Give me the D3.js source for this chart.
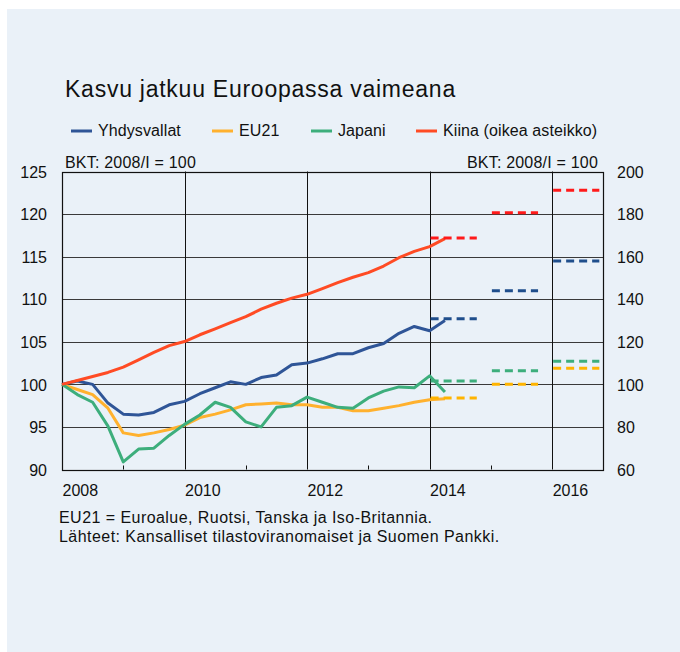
<!DOCTYPE html>
<html>
  <head>
    <meta charset="utf-8">
    <title>Kasvu jatkuu Euroopassa vaimeana</title>
    <style media="screen">
    body{margin: 0; background: #fff}
    text{font-family: "Liberation Sans", Arial, sans-serif; fill: #111}
    </style>
  </head>
  <body>
    <script src="https://d3js.org/d3.v7.min.js"></script>
    <script type="text/javascript">
      var w = 680, h = 652;

      // quarterly observations 2008/I - 2014/II
      var quarters = d3.range(26).map(function(i){ return 2008 + i / 4 })
      var usa   = [100.0, 100.4, 100.0, 97.8, 96.5, 96.4, 96.7, 97.6, 98.0, 98.9, 99.6, 100.3, 100.0,
                   100.8, 101.1, 102.3, 102.5, 103.0, 103.6, 103.6, 104.3, 104.8, 106.0, 106.8, 106.3, 107.5]
      var eu21  = [100.0, 99.4, 98.8, 97.2, 94.3, 94.0, 94.3, 94.7, 95.2, 96.1, 96.5, 97.0, 97.6,
                   97.7, 97.8, 97.6, 97.6, 97.3, 97.3, 96.9, 96.9, 97.2, 97.5, 97.9, 98.2, 98.3]
      var japan = [100.0, 98.8, 97.9, 95.1, 90.9, 92.4, 92.5, 94.0, 95.3, 96.4, 97.9, 97.3, 95.6,
                   95.0, 97.3, 97.5, 98.5, 97.9, 97.3, 97.2, 98.4, 99.2, 99.7, 99.6, 101.0, 99.1]
      var china = [100.0, 101.8, 103.7, 105.6, 108.1, 111.5, 115.0, 118.2, 120.1, 123.3, 126.1, 129.0, 131.8,
                   135.3, 138.1, 140.5, 142.3, 145.0, 147.8, 150.3, 152.5, 155.6, 159.5, 162.5, 164.7, 168.5]

      // annual forecasts (dashed)
      var fcYears = [2014, 2015, 2016]
      var fcUsa   = [107.7, 111.0, 114.5]
      var fcEu21  = [98.4, 100.0, 101.9]
      var fcJapan = [100.4, 101.6, 102.7]
      var fcChina = [168.7, 180.6, 191.2]

      var leftTicks = [90, 95, 100, 105, 110, 115, 120, 125]
      var rightTicks = [60, 80, 100, 120, 140, 160, 180, 200]
      var yearTicks = [2008, 2010, 2012, 2014, 2016]
      var minorYears = [2009, 2011, 2013, 2015]

      var series = [
        {name: 'Yhdysvallat', values: usa, fc: fcUsa, color: '#2f5597', fcColor: '#1f4e8c', axis: 'l'},
        {name: 'EU21', values: eu21, fc: fcEu21, color: '#ffb12e', fcColor: '#ffb400', axis: 'l'},
        {name: 'Japani', values: japan, fc: fcJapan, color: '#3dae7c', fcColor: '#3dae7c', axis: 'l'},
        {name: 'Kiina (oikea asteikko)', values: china, fc: fcChina, color: '#ff4b24', fcColor: '#ff1a1a', axis: 'r'}
      ]

      var m = {left: 62, right: 603, top: 171.5, bottom: 469.5}

      var x = d3.scaleLinear().domain([2008, 2016.83]).range([m.left, m.right])
      var yl = d3.scaleLinear().domain([90, 125]).range([m.bottom, m.top])
      var yr = d3.scaleLinear().domain([60, 200]).range([m.bottom, m.top])

      var svg = d3.select('body').append('svg')
        .attr('width', w)
        .attr('height', h)

      svg.append('rect')
        .attr('x', 7).attr('y', 9)
        .attr('width', w - 7).attr('height', h - 9)
        .attr('fill', '#eaf1f8')

      svg.append('text')
        .attr('x', 65).attr('y', 97)
        .style('font-size', '23px')
        .style('letter-spacing', '0.75px')
        .text('Kasvu jatkuu Euroopassa vaimeana')

      // legend
      var legX = [71, 212, 311, 416]
      var leg = svg.selectAll('.leg')
        .data(series)
        .enter().append('g')
          .attr('transform', function(d, i){ return 'translate(' + legX[i] + ',131)' })
      leg.append('line')
        .attr('x1', 0).attr('x2', 21)
        .attr('stroke', function(d){ return d.color })
        .attr('stroke-width', 3)
      leg.append('text')
        .attr('x', 27).attr('y', 5)
        .style('font-size', '16px')
        .style('letter-spacing', '0.1px')
        .text(function(d){ return d.name })

      svg.append('text')
        .attr('x', 65).attr('y', 168)
        .style('font-size', '16px')
        .style('letter-spacing', '0.2px')
        .text('BKT: 2008/I = 100')
      svg.append('text')
        .attr('x', 598).attr('y', 168)
        .attr('text-anchor', 'end')
        .style('font-size', '16px')
        .style('letter-spacing', '0.2px')
        .text('BKT: 2008/I = 100')

      // grid
      var grid = svg.append('g')
      grid.selectAll('.hg')
        .data(leftTicks)
        .enter().append('line')
          .attr('x1', m.left).attr('x2', m.right)
          .attr('y1', function(d){ return Math.round(yl(d)) + 0.5 })
          .attr('y2', function(d){ return Math.round(yl(d)) + 0.5 })
          .attr('stroke', '#3a3a3a')
          .attr('stroke-width', 1)
      grid.selectAll('.vg')
        .data(yearTicks.slice(1))
        .enter().append('line')
          .attr('x1', function(d){ return Math.round(x(d)) + 0.5 })
          .attr('x2', function(d){ return Math.round(x(d)) + 0.5 })
          .attr('y1', m.top).attr('y2', m.bottom)
          .attr('stroke', '#111')
          .attr('stroke-width', 1)
      grid.selectAll('.mt')
        .data(minorYears)
        .enter().append('line')
          .attr('x1', function(d){ return Math.round(x(d)) + 0.5 })
          .attr('x2', function(d){ return Math.round(x(d)) + 0.5 })
          .attr('y1', m.bottom - 4).attr('y2', m.bottom)
          .attr('stroke', '#111')

      svg.append('rect')
        .attr('x', m.left + 0.5).attr('y', Math.round(m.top) + 0.5)
        .attr('width', m.right - m.left).attr('height', Math.round(m.bottom) - Math.round(m.top))
        .attr('fill', 'none')
        .attr('stroke', '#111')
        .attr('stroke-width', 1.2)

      // axes
      var axL = svg.append('g')
        .attr('transform', 'translate(' + (m.left - 15) + ',0)')
        .call(d3.axisLeft(yl).tickValues(leftTicks).tickSize(0).tickPadding(0))
      var axR = svg.append('g')
        .attr('transform', 'translate(' + (m.right + 14) + ',0)')
        .call(d3.axisRight(yr).tickValues(rightTicks).tickSize(0).tickPadding(0))
      var axB = svg.append('g')
        .attr('transform', 'translate(0,495.5)')
        .call(d3.axisBottom(x).tickValues(yearTicks).tickFormat(d3.format('d')).tickSize(0).tickPadding(0))
      axB.selectAll('text').attr('text-anchor', 'start').attr('dy', 0).attr('y', 0)
      ;[axL, axR, axB].forEach(function(a){
        a.select('.domain').remove()
        a.selectAll('text')
          .style('font-size', '16px')
          .style('font-family', '"Liberation Sans", Arial, sans-serif')
          .attr('fill', '#111')
      })
      axL.selectAll('text').attr('dy', '0.36em')
      axR.selectAll('text').attr('dy', '0.36em')

      // lines
      var plot = svg.append('g')
      series.forEach(function(s){
        var y = s.axis === 'l' ? yl : yr
        var line = d3.line()
          .x(function(d, i){ return x(quarters[i]) })
          .y(function(d){ return y(d) })
        plot.append('path')
          .datum(s.values)
          .attr('d', line)
          .attr('fill', 'none')
          .attr('stroke', s.color)
          .attr('stroke-width', 3)
          .attr('stroke-linejoin', 'round')

        plot.selectAll(null)
          .data(s.fc)
          .enter().append('line')
            .attr('x1', function(d, i){ return x(fcYears[i]) + 1 })
            .attr('x2', function(d, i){ return x(fcYears[i] + 0.77) })
            .attr('y1', function(d){ return y(d) })
            .attr('y2', function(d){ return y(d) })
            .attr('stroke', s.fcColor)
            .attr('stroke-width', 3)
            .attr('stroke-dasharray', '8,5')
      })

      svg.append('text')
        .attr('x', 59).attr('y', 522.5)
        .style('font-size', '16px')
        .style('letter-spacing', '0.45px')
        .text('EU21 = Euroalue, Ruotsi, Tanska ja Iso-Britannia.')
      svg.append('text')
        .attr('x', 59).attr('y', 541.5)
        .style('font-size', '16px')
        .style('letter-spacing', '0.45px')
        .text('Lähteet: Kansalliset tilastoviranomaiset ja Suomen Pankki.')
    </script>
  </body>
</html>
